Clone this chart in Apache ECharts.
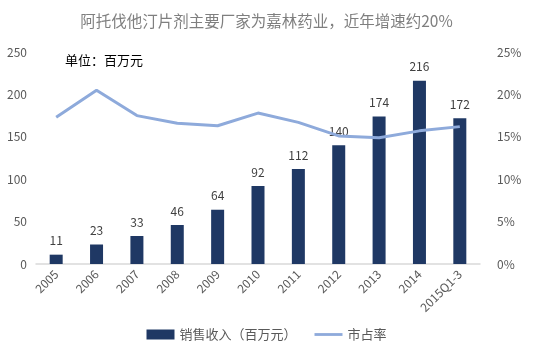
<!DOCTYPE html>
<html><head><meta charset="utf-8">
<script src="https://cdn.jsdelivr.net/npm/echarts@6/dist/echarts.min.js"></script>
<style>html,body{margin:0;padding:0;background:#fff}#c{width:533px;height:354px}</style>
</head><body><div id="c"></div>
<script>
const categories = ['2005','2006','2007','2008','2009','2010','2011','2012','2013','2014','2015Q1-3'];
const sales = [11,23,33,46,64,92,112,140,174,216,172];
const share = [17.3,20.5,17.5,16.6,16.3,17.8,16.7,15.1,14.9,15.7,16.2];
const leftTicks = [0,50,100,150,200,250];
const rightTicks = [0,5,10,15,20,25];
const font = '"Noto Sans CJK SC", "Liberation Sans", sans-serif';
const chart = echarts.init(document.getElementById('c'));
chart.setOption({
  animation:false,
  textStyle:{fontFamily:font},
  title:{text:'阿托伐他汀片剂主要厂家为嘉林药业，近年增速约20%',left:'center',top:8,
    textStyle:{fontSize:15.5,fontWeight:'normal',color:'#7f7f7f',fontFamily:font}},
  graphic:[{type:'text',left:65,top:54,style:{text:'单位：百万元',fontSize:13,fill:'#000',fontFamily:font}}],
  legend:{bottom:8,left:'center',itemGap:18,itemWidth:28,itemHeight:10,
    textStyle:{fontSize:13,color:'#595959',fontFamily:font},
    data:[{name:'销售收入（百万元）',icon:'rect'},
          {name:'市占率',icon:'path://M0,0 L30,0 L30,3 L0,3 Z',itemHeight:3}]},
  grid:{left:36,right:53,top:52,bottom:90},
  xAxis:{type:'category',data:categories,
    axisLine:{lineStyle:{color:'#d9d9d9',width:1.5}},axisTick:{show:false},
    axisLabel:{rotate:45,fontSize:12,color:'#595959',interval:0,margin:8}},
  yAxis:[
    {type:'value',min:leftTicks[0],max:leftTicks[leftTicks.length-1],interval:50,
      splitLine:{show:false},axisLine:{show:false},axisTick:{show:false},
      axisLabel:{fontSize:12,color:'#595959',margin:9}},
    {type:'value',min:rightTicks[0],max:rightTicks[rightTicks.length-1],interval:5,
      splitLine:{show:false},axisLine:{show:false},axisTick:{show:false},
      axisLabel:{fontSize:12,color:'#595959',margin:17,formatter:'{value}%'}}
  ],
  series:[
    {name:'销售收入（百万元）',type:'bar',data:sales,barWidth:13,
      itemStyle:{color:'#1f3864'},
      label:{show:true,position:'top',fontSize:12,color:'#404040',distance:8}},
    {name:'市占率',type:'line',yAxisIndex:1,data:share,symbol:'none',
      lineStyle:{color:'#8eaadb',width:3},itemStyle:{color:'#8eaadb'}}
  ]
});
</script></body></html>
